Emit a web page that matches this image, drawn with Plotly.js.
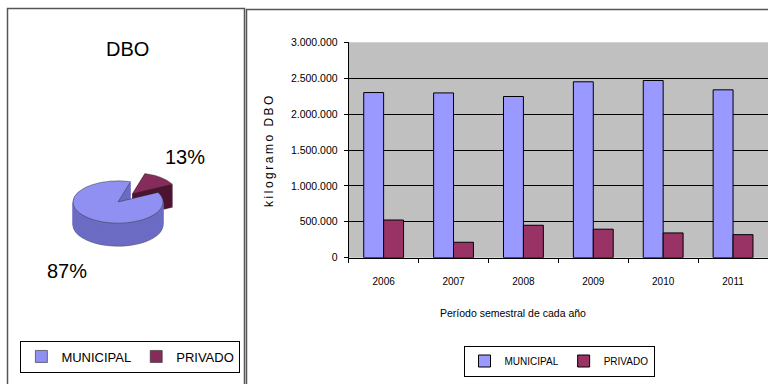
<!DOCTYPE html>
<html>
<head>
<meta charset="utf-8">
<script src="https://cdn.plot.ly/plotly-3.0.1.min.js"></script>
<style>
  html, body { margin: 0; padding: 0; background: #ffffff; }
  #chart { width: 768px; height: 384px; }
  #chart .ytitle { letter-spacing: 2.5px; }
</style>
</head>
<body>
<div id="chart"></div>
<script>
// ---- data ----
const years = ['2006', '2007', '2008', '2009', '2010', '2011'];
const municipal = [2300000, 2295000, 2245000, 2450000, 2468000, 2338000];
const privado = [525000, 215000, 452000, 397000, 345000, 321000];
const pieLabels = ['MUNICIPAL', 'PRIVADO'];
const pieValues = [87, 13];
const yTickVals = [0, 500000, 1000000, 1500000, 2000000, 2500000, 3000000];
const yTickText = ['0', '500.000', '1.000.000', '1.500.000', '2.000.000', '2.500.000', '3.000.000'];

// ---- style ----
const W = 768, H = 384;
const ARIAL = '"Liberation Sans", Arial, sans-serif';
const C_MUN = '#9999FF', C_PRI = '#993366';
const px = v => v / W;          // x pixel -> paper
const py = v => 1 - v / H;      // y pixel -> paper

// pie geometry (pixels); squashed vertically after render to fake 3D
const PIE_CX = 118, PIE_CY = 202, PIE_R = 45, PIE_PULL = 0.5, SQUASH = 0.47;
const PIE_DEPTH = 23 / SQUASH;
const HALF = PIE_R * (1 + PIE_PULL);
const LAYERS = 24;

const traces = [];

function pieTrace(offset, colors, lineColors, lineW, showLegend) {
  const cy = PIE_CY + offset;
  return {
    type: 'pie',
    labels: pieLabels,
    values: pieValues,
    sort: false,
    direction: 'clockwise',
    rotation: 63,
    pull: [0, PIE_PULL],
    textinfo: 'none',
    hoverinfo: 'label+percent',
    marker: { colors: colors, line: { color: lineColors, width: lineW } },
    domain: { x: [px(PIE_CX - HALF), px(PIE_CX + HALF)], y: [py(cy + HALF), py(cy - HALF)] },
    showlegend: showLegend,
    legend: 'legend2'
  };
}
const SIDE = ['#6c6cc4', '#4d1530'];
for (let k = 0; k < LAYERS; k++) {
  const off = PIE_DEPTH * (1 - k / LAYERS);
  if (k === 0) traces.push(pieTrace(off, SIDE, ['#2a2a2a', '#2a2a2a'], 0.6, false));
  else traces.push(pieTrace(off, SIDE, SIDE, 1, false));
}
traces.push(pieTrace(0, ['#9090F2', '#862c5a'], ['#2a2a2a', '#2a2a2a'], 0.6, true));

traces.push({
  type: 'bar', name: 'MUNICIPAL', x: years, y: municipal,
  marker: { color: C_MUN, line: { color: '#000', width: 1 } },
  legend: 'legend'
});
traces.push({
  type: 'bar', name: 'PRIVADO', x: years, y: privado,
  marker: { color: C_PRI, line: { color: '#000', width: 1 } },
  legend: 'legend'
});

const pieSum = pieValues.reduce((a, b) => a + b, 0);
const pct = v => Math.round(v / pieSum * 100) + '%';

const layout = {
  width: W, height: H,
  margin: { l: 0, r: 0, t: 0, b: 0, pad: 0 },
  paper_bgcolor: '#ffffff',
  plot_bgcolor: '#C0C0C0',
  font: { family: ARIAL, size: 10, color: '#000' },
  barmode: 'group',
  bargap: 0.43,
  bargroupgap: 0,
  xaxis: {
    domain: [px(348.7), 1],
    type: 'category',
    showline: true, linecolor: '#000', linewidth: 1,
    ticks: 'outside', tickson: 'boundaries', ticklen: 4, tickcolor: '#000',
    ticklabelstandoff: 14,
    tickfont: { family: ARIAL, size: 10 },
    showgrid: false, zeroline: false
  },
  yaxis: {
    domain: [py(257.7), py(42.3)],
    range: [0, 3000000],
    tickvals: yTickVals, ticktext: yTickText,
    showline: true, linecolor: '#000', linewidth: 1,
    ticks: 'outside', ticklen: 4, tickcolor: '#000',
    ticklabelstandoff: 4,
    tickfont: { family: ARIAL, size: 10.5 },
    showgrid: true, gridcolor: '#000', gridwidth: 1,
    zeroline: false,
    title: { text: 'kilogramo DBO', font: { family: ARIAL, size: 12 }, standoff: 14 }
  },
  legend: {
    orientation: 'h',
    x: px(559), xanchor: 'center', y: py(361), yanchor: 'middle',
    bgcolor: '#fff', bordercolor: '#000', borderwidth: 1,
    font: { family: ARIAL, size: 10 },
    itemwidth: 30, itemclick: false
  },
  legend2: {
    orientation: 'h',
    x: px(130.4), xanchor: 'center', y: py(356.5), yanchor: 'middle',
    bgcolor: '#fff', bordercolor: '#000', borderwidth: 1,
    font: { family: ARIAL, size: 13 },
    itemwidth: 30, itemclick: false
  },
  annotations: [
    { text: 'DBO', xref: 'paper', yref: 'paper', x: px(127.7), y: py(48.5),
      xanchor: 'center', yanchor: 'middle', showarrow: false,
      font: { family: ARIAL, size: 20 } },
    { text: pct(pieValues[1]), xref: 'paper', yref: 'paper', x: px(185), y: py(157),
      xanchor: 'center', yanchor: 'middle', showarrow: false,
      font: { family: ARIAL, size: 20 } },
    { text: pct(pieValues[0]), xref: 'paper', yref: 'paper', x: px(67), y: py(271),
      xanchor: 'center', yanchor: 'middle', showarrow: false,
      font: { family: ARIAL, size: 20 } },
    { text: 'Período semestral de cada año', xref: 'paper', yref: 'paper', x: px(513), y: py(313),
      xanchor: 'center', yanchor: 'middle', showarrow: false,
      font: { family: ARIAL, size: 10.5 } }
  ],
  shapes: [
    { type: 'rect', xref: 'paper', yref: 'paper', x0: px(7.5), x1: px(244.5), y0: py(392), y1: py(8.5),
      line: { color: '#555', width: 1.5 }, layer: 'below' },
    { type: 'rect', xref: 'paper', yref: 'paper', x0: px(246.5), x1: px(800), y0: py(392), y1: py(9.5),
      line: { color: '#555', width: 1.5 }, layer: 'below' }
  ]
};

Plotly.newPlot('chart', traces, layout, { displayModeBar: false, staticPlot: true }).then(gd => {
  const layer = gd.querySelector('.pielayer');
  if (layer) {
    layer.setAttribute('transform', 'translate(0,' + (PIE_CY * (1 - SQUASH)) + ') scale(1,' + SQUASH + ')');
  }
});
</script>
</body>
</html>
